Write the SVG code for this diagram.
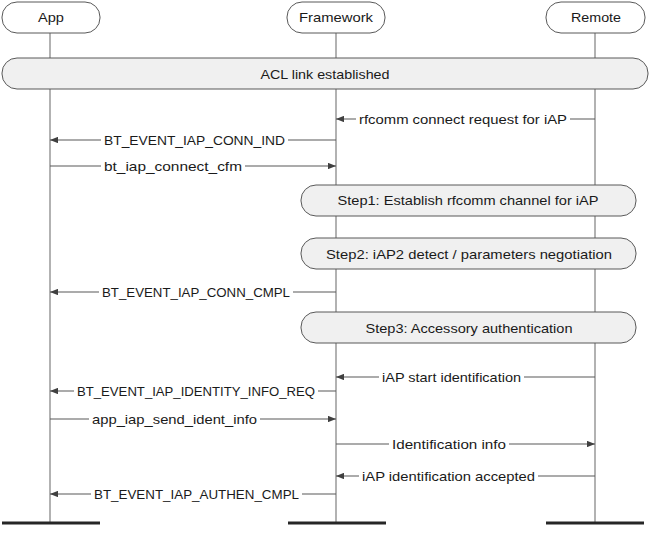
<svg xmlns="http://www.w3.org/2000/svg" width="650" height="534" viewBox="0 0 650 534">
<style>
text{font-family:"Liberation Sans",Arial,sans-serif;font-size:13px;fill:#1a1a1a}
.c{text-anchor:middle}
.box{fill:#ffffff;stroke:#595959;stroke-width:1}
.bar{fill:#f0f0f0;stroke:#595959;stroke-width:1}
.life{stroke:#7f7f7f;stroke-width:1.2;fill:none}
.end{stroke:#262626;stroke-width:3;fill:none}
.msg{stroke:#595959;stroke-width:1.2;fill:none}
.bg{fill:#ffffff}
</style>
<defs>
<marker id="ah" viewBox="0 0 10 8" refX="10" refY="4" markerWidth="8" markerHeight="6.4" markerUnits="userSpaceOnUse" orient="auto">
<path d="M0,0 L10,4 L0,8 z" fill="#404040"/>
</marker>
</defs>
<g id="lifelines">
<line class="life" x1="50" y1="32" x2="50" y2="523"/>
<line class="life" x1="336" y1="32" x2="336" y2="523"/>
<line class="life" x1="595" y1="32" x2="595" y2="523"/>
<line class="end" x1="2" y1="523" x2="100" y2="523"/>
<line class="end" x1="288" y1="523" x2="386" y2="523"/>
<line class="end" x1="546" y1="523" x2="644" y2="523"/>
</g>
<g id="node-app"><rect class="box" x="2" y="2" width="98" height="31" rx="15"/><text class="c" x="51" y="22" textLength="26" lengthAdjust="spacingAndGlyphs">App</text></g>
<g id="node-framework"><rect class="box" x="287" y="2" width="98" height="31" rx="15"/><text class="c" x="336" y="22" textLength="74" lengthAdjust="spacingAndGlyphs">Framework</text></g>
<g id="node-remote"><rect class="box" x="546" y="2" width="99" height="31" rx="15"/><text class="c" x="596" y="22" textLength="50" lengthAdjust="spacingAndGlyphs">Remote</text></g>
<g id="node-acl"><rect class="bar" x="2" y="58" width="646" height="31" rx="15"/><text class="c" x="325" y="79" textLength="129" lengthAdjust="spacingAndGlyphs">ACL link established</text></g>
<g id="node-step1"><rect class="bar" x="301" y="185" width="335" height="31" rx="15"/><text class="c" x="468" y="205" textLength="261" lengthAdjust="spacingAndGlyphs">Step1: Establish rfcomm channel for iAP</text></g>
<g id="node-step2"><rect class="bar" x="301" y="238" width="335" height="31" rx="15"/><text class="c" x="469" y="259" textLength="286" lengthAdjust="spacingAndGlyphs">Step2: iAP2 detect / parameters negotiation</text></g>
<g id="node-step3"><rect class="bar" x="301" y="312" width="335" height="31" rx="15"/><text class="c" x="469" y="333" textLength="207" lengthAdjust="spacingAndGlyphs">Step3: Accessory authentication</text></g>
<g id="connectors">
<line class="msg" x1="595" y1="119" x2="336" y2="119" marker-end="url(#ah)"/>
<rect class="bg" x="356" y="112" width="214" height="14"/>
<text x="359" y="124" textLength="208" lengthAdjust="spacingAndGlyphs">rfcomm connect request for iAP</text>

<line class="msg" x1="336" y1="140" x2="50" y2="140" marker-end="url(#ah)"/>
<rect class="bg" x="101" y="133" width="187" height="14"/>
<text x="104" y="145" textLength="181" lengthAdjust="spacingAndGlyphs">BT_EVENT_IAP_CONN_IND</text>

<line class="msg" x1="50" y1="166" x2="336" y2="166" marker-end="url(#ah)"/>
<rect class="bg" x="101" y="159" width="144" height="14"/>
<text x="104" y="171" textLength="138" lengthAdjust="spacingAndGlyphs">bt_iap_connect_cfm</text>

<line class="msg" x1="336" y1="292" x2="50" y2="292" marker-end="url(#ah)"/>
<rect class="bg" x="99" y="285" width="194" height="14"/>
<text x="102" y="297" textLength="188" lengthAdjust="spacingAndGlyphs">BT_EVENT_IAP_CONN_CMPL</text>

<line class="msg" x1="595" y1="377" x2="336" y2="377" marker-end="url(#ah)"/>
<rect class="bg" x="379" y="370" width="145" height="14"/>
<text x="382" y="382" textLength="139" lengthAdjust="spacingAndGlyphs">iAP start identification</text>

<line class="msg" x1="336" y1="391" x2="50" y2="391" marker-end="url(#ah)"/>
<rect class="bg" x="74" y="384" width="244" height="14"/>
<text x="77" y="396" textLength="238" lengthAdjust="spacingAndGlyphs">BT_EVENT_IAP_IDENTITY_INFO_REQ</text>

<line class="msg" x1="50" y1="419" x2="336" y2="419" marker-end="url(#ah)"/>
<rect class="bg" x="89" y="412" width="171" height="14"/>
<text x="92" y="424" textLength="165" lengthAdjust="spacingAndGlyphs">app_iap_send_ident_info</text>

<line class="msg" x1="336" y1="444" x2="595" y2="444" marker-end="url(#ah)"/>
<rect class="bg" x="389" y="437" width="120" height="14"/>
<text x="392" y="449" textLength="114" lengthAdjust="spacingAndGlyphs">Identification info</text>

<line class="msg" x1="595" y1="476" x2="336" y2="476" marker-end="url(#ah)"/>
<rect class="bg" x="359" y="469" width="179" height="14"/>
<text x="362" y="481" textLength="173" lengthAdjust="spacingAndGlyphs">iAP identification accepted</text>

<line class="msg" x1="336" y1="494" x2="50" y2="494" marker-end="url(#ah)"/>
<rect class="bg" x="91" y="487" width="211" height="14"/>
<text x="94" y="499" textLength="205" lengthAdjust="spacingAndGlyphs">BT_EVENT_IAP_AUTHEN_CMPL</text>
</g>
</svg>
